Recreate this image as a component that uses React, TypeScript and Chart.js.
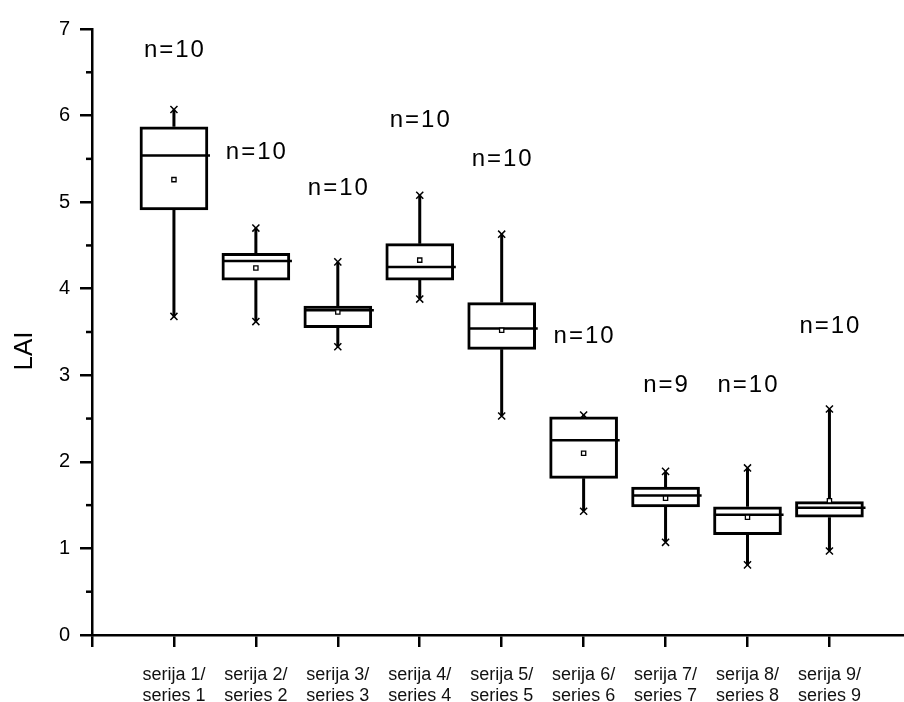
import React, { useEffect, useRef } from 'react';
import { Chart, registerables } from 'chart.js';

Chart.register(...registerables);

const CATEGORIES: string[][] = [
  ['serija 1/', 'series 1'],
  ['serija 2/', 'series 2'],
  ['serija 3/', 'series 3'],
  ['serija 4/', 'series 4'],
  ['serija 5/', 'series 5'],
  ['serija 6/', 'series 6'],
  ['serija 7/', 'series 7'],
  ['serija 8/', 'series 8'],
  ['serija 9/', 'series 9'],
];
const X_POS = [1, 2, 3, 4, 5, 6, 7, 8, 9];
const X_TICKS = [0, 1, 2, 3, 4, 5, 6, 7, 8, 9];
const WHISKER_MAX = [6.07, 4.7, 4.31, 5.08, 4.63, 2.54, 1.89, 1.93, 2.61];
const Q3 = [5.87, 4.41, 3.8, 4.52, 3.84, 2.52, 1.71, 1.48, 1.54];
const MEDIAN = [5.54, 4.32, 3.75, 4.25, 3.54, 2.25, 1.61, 1.39, 1.47];
const MEAN = [5.26, 4.24, 3.73, 4.33, 3.52, 2.1, 1.58, 1.36, 1.55];
const Q1 = [4.91, 4.1, 3.55, 4.1, 3.3, 1.81, 1.48, 1.16, 1.36];
const WHISKER_MIN = [3.68, 3.62, 3.33, 3.88, 2.53, 1.43, 1.07, 0.81, 0.97];
const N_LABELS = ['n=10', 'n=10', 'n=10', 'n=10', 'n=10', 'n=10', 'n=9', 'n=10', 'n=10'];
const N_LABEL_Y = [6.75, 5.57, 5.16, 5.95, 5.49, 3.45, 2.88, 2.88, 3.56];
const Y_MINOR = [0.5, 1.5, 2.5, 3.5, 4.5, 5.5, 6.5];
const Y_TITLE = 'LAI';

const FONT = "'Liberation Sans', Arial, sans-serif";

const annotPlugin = {
  id: 'annot',
  afterDraw(chart: any) {
    const { ctx, chartArea, scales } = chart;
    const x = scales.x;
    const y = scales.y;
    ctx.save();
    // minor ticks on y axis
    ctx.strokeStyle = '#000';
    ctx.lineWidth = 2.5;
    Y_MINOR.forEach((v) => {
      const py = y.getPixelForValue(v);
      ctx.beginPath();
      ctx.moveTo(chartArea.left - 6, py);
      ctx.lineTo(chartArea.left, py);
      ctx.stroke();
    });
    // n labels
    ctx.fillStyle = '#000';
    ctx.font = `24px ${FONT}`;
    ctx.textAlign = 'center';
    ctx.textBaseline = 'middle';
    try { (ctx as any).letterSpacing = '2px'; } catch (e) {}
    N_LABELS.forEach((t, i) => {
      ctx.fillText(t, x.getPixelForValue(X_POS[i]) + 1, y.getPixelForValue(N_LABEL_Y[i]));
    });
    try { (ctx as any).letterSpacing = '0px'; } catch (e) {}
    // y title
    ctx.font = `26px ${FONT}`;
    ctx.translate(chartArea.left - 67, (chartArea.top + chartArea.bottom) / 2 + 19);
    ctx.rotate(-Math.PI / 2);
    ctx.fillText(Y_TITLE, 0, 0);
    ctx.restore();
  },
};

export default function App() {
  const ref = useRef<HTMLCanvasElement | null>(null);
  useEffect(() => {
    if (!ref.current) return;
    const boxData = X_POS.map((x, i) => ({ x, y: [Q1[i], Q3[i]] }));
    const whiskerData: any[] = [];
    X_POS.forEach((x, i) => {
      whiskerData.push({ x, y: WHISKER_MAX[i] }, { x, y: Q3[i] }, { x, y: null });
      whiskerData.push({ x, y: Q1[i] }, { x, y: WHISKER_MIN[i] }, { x, y: null });
    });
    const medianData: any[] = [];
    X_POS.forEach((x, i) => {
      medianData.push({ x: x - 0.41, y: MEDIAN[i] }, { x: x + 0.44, y: MEDIAN[i] }, { x, y: null });
    });
    const meanData = X_POS.map((x, i) => ({ x, y: MEAN[i] }));
    const capData: any[] = [];
    X_POS.forEach((x, i) => {
      capData.push({ x, y: WHISKER_MAX[i] }, { x, y: WHISKER_MIN[i] });
    });

    const chart = new Chart(ref.current, {
      type: 'bar',
      data: {
        datasets: [
          {
            type: 'scatter',
            data: meanData,
            pointStyle: 'rect',
            pointRadius: 3,
            backgroundColor: '#fff',
            borderColor: '#000',
            borderWidth: 1.3,
            order: 0,
          } as any,
          {
            type: 'scatter',
            data: capData,
            pointStyle: 'crossRot',
            pointRadius: 5,
            borderColor: '#000',
            borderWidth: 1.5,
            order: 1,
          } as any,
          {
            type: 'scatter',
            data: medianData,
            showLine: true,
            spanGaps: false,
            borderColor: '#000',
            borderWidth: 2.5,
            pointRadius: 0,
            order: 2,
          } as any,
          {
            type: 'bar',
            data: boxData,
            backgroundColor: '#fff',
            borderColor: '#000',
            borderWidth: 3,
            borderSkipped: false,
            barThickness: 68,
            grouped: false,
            order: 3,
          } as any,
          {
            type: 'scatter',
            data: whiskerData,
            showLine: true,
            spanGaps: false,
            borderColor: '#000',
            borderWidth: 3,
            pointRadius: 0,
            order: 4,
          } as any,
        ],
      },
      options: {
        animation: false,
        responsive: false,
        layout: { autoPadding: false, padding: { top: 29, left: 0, right: 0, bottom: 0 } },
        plugins: { legend: { display: false }, tooltip: { enabled: false } },
        scales: {
          x: {
            type: 'linear',
            min: 0,
            max: 9.91,
            offset: false,
            position: 'bottom',
            afterBuildTicks: (scale: any) => {
              scale.ticks = X_TICKS.map((v) => ({ value: v }));
            },
            afterFit: (scale: any) => {
              scale.height = 67;
            },
            ticks: {
              autoSkip: false,
              maxRotation: 0,
              minRotation: 0,
              padding: 18,
              color: '#111',
              font: { family: FONT, size: 18, lineHeight: 1.15 },
              callback: (v: any) => (v >= 1 && v <= CATEGORIES.length ? CATEGORIES[v - 1] : ''),
            },
            grid: {
              offset: false,
              drawOnChartArea: false,
              drawTicks: true,
              tickLength: 12,
              tickColor: '#000',
              tickWidth: 2.5,
              color: '#000',
              lineWidth: 2.5,
            },
            border: { display: true, color: '#000', width: 2.5 },
          },
          y: {
            type: 'linear',
            min: 0,
            max: 7,
            afterFit: (scale: any) => {
              scale.width = 92;
            },
            ticks: {
              stepSize: 1,
              padding: 10,
              color: '#000',
              font: { family: FONT, size: 20 },
            },
            grid: {
              drawOnChartArea: false,
              drawTicks: true,
              tickLength: 12,
              tickColor: '#000',
              tickWidth: 2.5,
              color: '#000',
              lineWidth: 2.5,
            },
            border: { display: true, color: '#000', width: 2.5 },
          },
        },
      } as any,
      plugins: [annotPlugin],
    });
    return () => chart.destroy();
  }, []);

  return (
    <div style={{ position: 'fixed', left: 0, top: 0, width: 904, height: 702, background: '#fff' }}>
      <canvas ref={ref} width={904} height={702} style={{ width: 904, height: 702 }} />
    </div>
  );
}
